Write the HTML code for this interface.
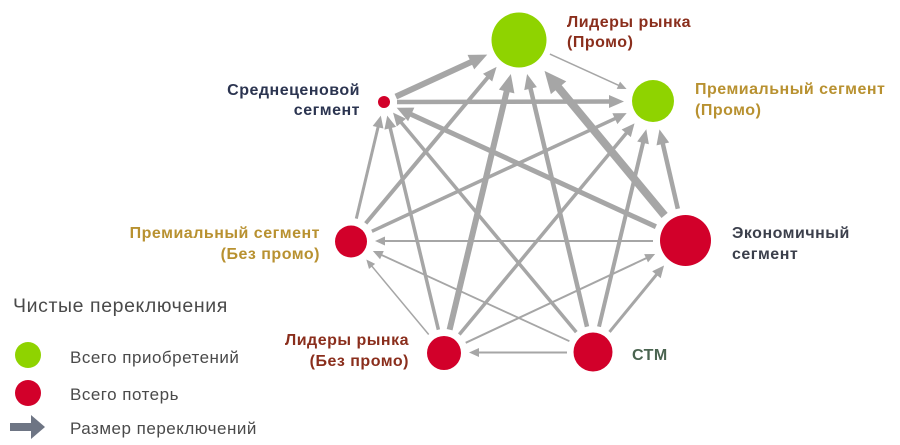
<!DOCTYPE html>
<html>
<head>
<meta charset="utf-8">
<style>
  html, body { margin:0; padding:0; background:#ffffff; }
  body { width:900px; height:445px; overflow:hidden; }
  svg { display:block; }
  .lbl { font-family:"Liberation Sans","Noto Sans CJK SC",sans-serif; font-weight:bold; font-size:16px; letter-spacing:0.5px; }
  .leg { font-family:"Liberation Sans","Noto Sans CJK SC",sans-serif; fill:#4a4a4a; letter-spacing:0.5px; }
</style>
</head>
<body>
<svg width="900" height="445" viewBox="0 0 900 445" xmlns="http://www.w3.org/2000/svg">
  <defs>
    <marker id="m9" markerUnits="userSpaceOnUse" markerWidth="9" markerHeight="8" refX="2" refY="4" orient="auto" overflow="visible"><path d="M0,0L9,4L0,8z" fill="#a6a6a6"/></marker>
    <marker id="m10" markerUnits="userSpaceOnUse" markerWidth="10" markerHeight="9" refX="2" refY="4.5" orient="auto" overflow="visible"><path d="M0,0L10,4.5L0,9z" fill="#a6a6a6"/></marker>
    <marker id="m12" markerUnits="userSpaceOnUse" markerWidth="12" markerHeight="11" refX="2" refY="5.5" orient="auto" overflow="visible"><path d="M0,0L12,5.5L0,11z" fill="#a6a6a6"/></marker>
    <marker id="m13" markerUnits="userSpaceOnUse" markerWidth="13" markerHeight="12" refX="2" refY="6" orient="auto" overflow="visible"><path d="M0,0L13,6L0,12z" fill="#a6a6a6"/></marker>
    <marker id="m14" markerUnits="userSpaceOnUse" markerWidth="14" markerHeight="12" refX="2" refY="6" orient="auto" overflow="visible"><path d="M0,0L14,6L0,12z" fill="#a6a6a6"/></marker>
    <marker id="m15" markerUnits="userSpaceOnUse" markerWidth="15" markerHeight="13" refX="2" refY="6.5" orient="auto" overflow="visible"><path d="M0,0L15,6.5L0,13z" fill="#a6a6a6"/></marker>
    <marker id="m16" markerUnits="userSpaceOnUse" markerWidth="16" markerHeight="15" refX="2" refY="7.5" orient="auto" overflow="visible"><path d="M0,0L16,7.5L0,15z" fill="#a6a6a6"/></marker>
    <marker id="m18" markerUnits="userSpaceOnUse" markerWidth="18" markerHeight="16" refX="2" refY="8" orient="auto" overflow="visible"><path d="M0,0L18,8L0,16z" fill="#a6a6a6"/></marker>
    <marker id="m22" markerUnits="userSpaceOnUse" markerWidth="22" markerHeight="20" refX="2" refY="10" orient="auto" overflow="visible"><path d="M0,0L22,10L0,20z" fill="#a6a6a6"/></marker>
  </defs>

  <g fill="none" stroke="#a6a6a6" stroke-linecap="butt">
    <path d="M395.8,96.6 L472.7,61.3" stroke-width="6" marker-end="url(#m18)"/>
    <path d="M549.9,54.1 L620.2,86.1" stroke-width="1.5" marker-end="url(#m9)"/>
    <path d="M397,102 L611,101.5" stroke-width="4.5" marker-end="url(#m15)"/>
    <path d="M664.6,215.4 L557.3,86.2" stroke-width="8" marker-end="url(#m22)"/>
    <path d="M677.8,208.8 L662.4,142.0" stroke-width="4.5" marker-end="url(#m15)"/>
    <path d="M655.9,226.7 L409.4,113.6" stroke-width="5" marker-end="url(#m16)"/>
    <path d="M653,241 L383,241" stroke-width="2" marker-end="url(#m10)"/>
    <path d="M356.3,218.6 L378.5,125.3" stroke-width="3" marker-end="url(#m12)"/>
    <path d="M365.7,223.4 L488.9,76.1" stroke-width="4" marker-end="url(#m14)"/>
    <path d="M371.9,231.3 L616.7,117.8" stroke-width="3.5" marker-end="url(#m13)"/>
    <path d="M438.4,329.7 L389.8,126.3" stroke-width="3.5" marker-end="url(#m13)"/>
    <path d="M449.6,329.7 L507.1,89.6" stroke-width="6" marker-end="url(#m18)"/>
    <path d="M459.3,334.5 L627.5,131.8" stroke-width="3.5" marker-end="url(#m13)"/>
    <path d="M428.7,334.5 L370.8,264.9" stroke-width="1.5" marker-end="url(#m9)"/>
    <path d="M465.7,342.8 L647.9,257.4" stroke-width="2" marker-end="url(#m10)"/>
    <path d="M567,352.5 L477,352.5" stroke-width="2" marker-end="url(#m10)"/>
    <path d="M569.4,341.2 L380.1,254.3" stroke-width="1.8" marker-end="url(#m10)"/>
    <path d="M576.3,332.1 L400.1,121.1" stroke-width="3.5" marker-end="url(#m13)"/>
    <path d="M587,326.7 L530.1,86.7" stroke-width="4.5" marker-end="url(#m15)"/>
    <path d="M599,326.7 L643.5,140.9" stroke-width="4" marker-end="url(#m14)"/>
    <path d="M609.5,331.9 L657.7,273.2" stroke-width="3" marker-end="url(#m12)"/>
  </g>

  <circle cx="519" cy="40" r="27.5" fill="#8fd300"/>
  <circle cx="653" cy="101" r="21" fill="#8fd300"/>
  <circle cx="685.5" cy="240.5" r="25.5" fill="#d2002a"/>
  <circle cx="593" cy="352" r="19.5" fill="#d2002a"/>
  <circle cx="444" cy="353" r="17" fill="#d2002a"/>
  <circle cx="351" cy="241.5" r="16" fill="#d2002a"/>
  <circle cx="384" cy="102" r="6" fill="#d2002a"/>

  <text class="lbl" x="567" y="27" fill="#8a2e1c">Лидеры рынка</text>
  <text class="lbl" x="567" y="47" fill="#8a2e1c">(Промо)</text>

  <text class="lbl" x="695" y="94" fill="#b89130">Премиальный сегмент</text>
  <text class="lbl" x="695" y="115" fill="#b89130">(Промо)</text>

  <text class="lbl" x="732" y="238" fill="#3b3f4b">Экономичный</text>
  <text class="lbl" x="732" y="259" fill="#3b3f4b">сегмент</text>

  <text class="lbl" x="632" y="360" fill="#4a6450">СТМ</text>

  <text class="lbl" x="409" y="345" fill="#8a2e1c" text-anchor="end">Лидеры рынка</text>
  <text class="lbl" x="409" y="366" fill="#8a2e1c" text-anchor="end">(Без промо)</text>

  <text class="lbl" x="320" y="238" fill="#b89130" text-anchor="end">Премиальный сегмент</text>
  <text class="lbl" x="320" y="259" fill="#b89130" text-anchor="end">(Без промо)</text>

  <text class="lbl" x="360" y="95" fill="#2b3450" text-anchor="end">Среднеценовой</text>
  <text class="lbl" x="360" y="115" fill="#2b3450" text-anchor="end">сегмент</text>

  <text class="leg" x="13" y="312" font-size="19.5" style="letter-spacing:0.6px">Чистые переключения</text>
  <circle cx="28" cy="355" r="13" fill="#8fd300"/>
  <text class="leg" x="70" y="363" font-size="17">Всего приобретений</text>
  <circle cx="28" cy="393" r="13" fill="#d2002a"/>
  <text class="leg" x="70" y="400" font-size="17">Всего потерь</text>
  <rect x="10" y="423" width="23" height="8" fill="#6e7584"/>
  <polygon points="31,415 45,427 31,439" fill="#6e7584"/>
  <text class="leg" x="70" y="434" font-size="17">Размер переключений</text>
</svg>
</body>
</html>
